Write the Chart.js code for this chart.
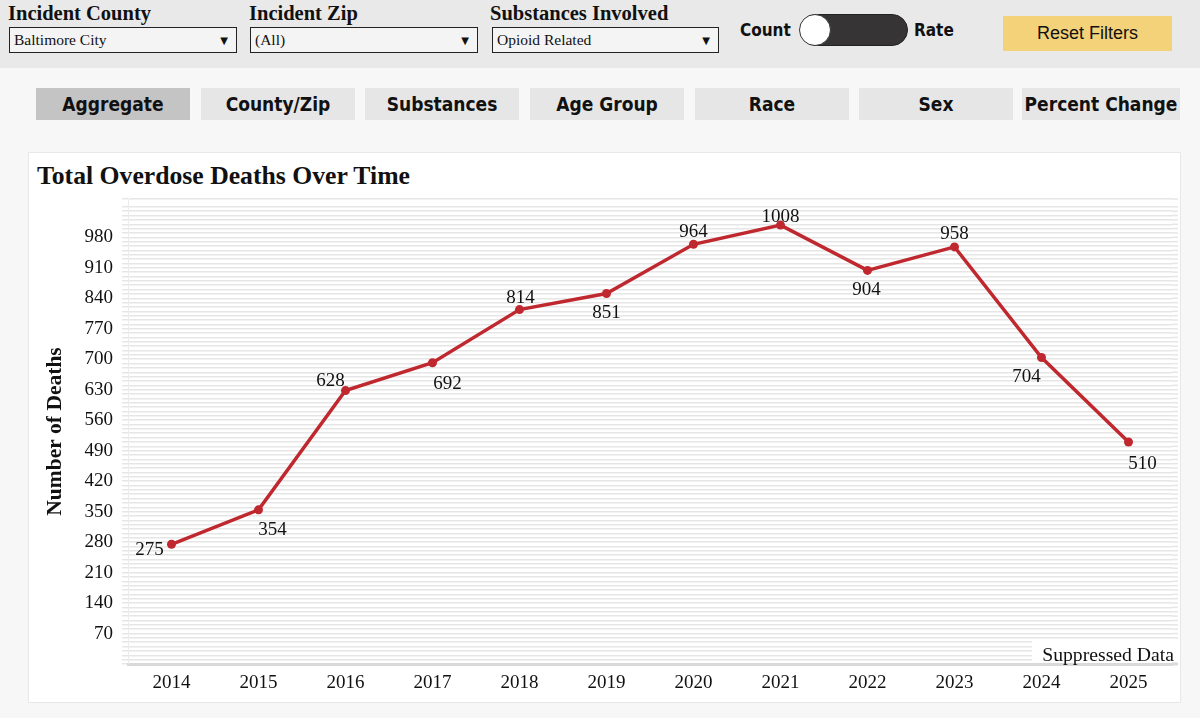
<!DOCTYPE html>
<html>
<head>
<meta charset="utf-8">
<script src="https://cdn.jsdelivr.net/npm/chart.js@4.4.1/dist/chart.umd.min.js"></script>
<style>
  html,body{margin:0;padding:0;width:1200px;height:718px;overflow:hidden;background:#f7f7f7;}
  #top{position:absolute;left:0;top:0;width:1200px;height:68px;background:#e9e9e9;}
  .flabel{position:absolute;top:2px;font-family:"Liberation Serif",serif;font-weight:bold;font-size:20.5px;color:#111;}
  .dd{position:absolute;top:27px;height:26px;border:1.5px solid #222;background:#f4f4f4;box-sizing:border-box;}
  .dd span{position:absolute;left:4px;top:3px;font-family:"Liberation Serif",serif;font-size:15.5px;color:#111;}
  .dd i{position:absolute;right:8px;top:7px;font-style:normal;font-size:10px;color:#111;font-family:"DejaVu Sans",sans-serif;}
  .tog{position:absolute;font-family:"DejaVu Sans Condensed","DejaVu Sans",sans-serif;font-weight:bold;font-size:17px;color:#111;top:20px;}
  #track{position:absolute;left:800px;top:14px;width:108px;height:32px;border-radius:16px;background:#363434;box-sizing:border-box;border:1px solid #222;}
  #knob{position:absolute;left:799px;top:14px;width:32px;height:32px;border-radius:16px;background:#fff;box-sizing:border-box;border:1.5px solid #333;}
  #reset{position:absolute;left:1003px;top:16px;width:169px;height:35px;background:#f4d27a;font-family:"Liberation Sans",Arial,sans-serif;font-size:18px;color:#111;text-align:center;line-height:35px;}
  .tab{position:absolute;top:88px;height:32px;width:154px;background:#e6e6e6;font-family:"DejaVu Sans Condensed","DejaVu Sans",sans-serif;font-weight:bold;font-size:19px;color:#111;text-align:center;line-height:32px;}
  #card{position:absolute;left:28px;top:152px;width:1153px;height:551px;background:#fff;border:1px solid #e8e8e8;box-sizing:border-box;}
  #ctitle{position:absolute;left:37px;top:161px;font-family:"Liberation Serif",serif;font-weight:bold;font-size:25.7px;color:#111;}
  #chartwrap{position:absolute;left:28px;top:152px;width:1153px;height:552px;}
  #supp{position:absolute;left:1032px;top:641px;width:142px;height:20px;background:#fff;font-family:"Liberation Serif",serif;font-size:19.7px;color:#111;text-align:right;line-height:26px;padding-right:4px;overflow:visible;}
</style>
</head>
<body>
<div id="top"></div>
<div class="flabel" style="left:8px">Incident County</div>
<div class="dd" style="left:9px;width:228px"><span>Baltimore City</span><i>▼</i></div>
<div class="flabel" style="left:249px">Incident Zip</div>
<div class="dd" style="left:250px;width:228px"><span>(All)</span><i>▼</i></div>
<div class="flabel" style="left:490px">Substances Involved</div>
<div class="dd" style="left:492px;width:227px"><span>Opioid Related</span><i>▼</i></div>
<div class="tog" style="left:740px">Count</div>
<div id="track"></div><div id="knob"></div>
<div class="tog" style="left:914px">Rate</div>
<div id="reset">Reset Filters</div>

<div class="tab" style="left:36px;background:#c4c4c4">Aggregate</div>
<div class="tab" style="left:201px">County/Zip</div>
<div class="tab" style="left:365px">Substances</div>
<div class="tab" style="left:530px">Age Group</div>
<div class="tab" style="left:695px">Race</div>
<div class="tab" style="left:859px">Sex</div>
<div class="tab" style="left:1022px;width:158px">Percent Change</div>

<div id="card"></div>
<div id="ctitle">Total Overdose Deaths Over Time</div>
<div id="chartwrap"><canvas id="c" width="1153" height="552"></canvas></div>
<div id="supp">Suppressed Data</div>

<script>
const years = ["2014","2015","2016","2017","2018","2019","2020","2021","2022","2023","2024","2025"];
const deaths = [275, 354, 628, 692, 814, 851, 964, 1008, 904, 958, 704, 510];
const yTickLabels = [70, 140, 210, 280, 350, 420, 490, 560, 630, 700, 770, 840, 910, 980];

// label placement offsets (styling only): [dx, dy]
const labelOffsets = [[-22,6],[14,20],[-15,-10],[15,21],[1,-12],[0,20],[0,-12],[0,-8],[-1,20],[0,-13],[-15,20],[14,22]];

const labelPlugin = {
  id: 'pointLabels',
  afterDatasetsDraw(chart) {
    const ctx = chart.ctx;
    const meta = chart.getDatasetMeta(0);
    ctx.save();
    ctx.font = '19px "Liberation Serif", serif';
    ctx.fillStyle = '#111';
    ctx.textAlign = 'center';
    ctx.textBaseline = 'middle';
    meta.data.forEach((pt, i) => {
      const o = labelOffsets[i];
      ctx.fillText(String(chart.data.datasets[0].data[i]), pt.x + o[0], pt.y + o[1]);
    });
    ctx.restore();
  }
};

// extend horizontal gridlines slightly past the right edge of the plot
const gridExtend = {
  id: 'gridExtend',
  beforeDatasetsDraw(chart) {
    const ctx = chart.ctx, ys = chart.scales.y, ca = chart.chartArea;
    ctx.save();
    ctx.strokeStyle = '#e6e6e6';
    ctx.lineWidth = 1.5;
    ys.ticks.forEach(t => {
      const y = ys.getPixelForValue(t.value);
      ctx.beginPath();
      ctx.moveTo(ca.right, y);
      ctx.lineTo(ca.right + 6, y);
      ctx.stroke();
    });
    ctx.strokeStyle = '#d9d9d9';
    ctx.lineWidth = 3;
    ctx.beginPath();
    ctx.moveTo(ca.right, ca.bottom);
    ctx.lineTo(ca.right + 6, ca.bottom);
    ctx.stroke();
    ctx.restore();
  }
};

new Chart(document.getElementById('c'), {
  type: 'line',
  data: {
    labels: years,
    datasets: [{
      data: deaths,
      borderColor: '#c0282f',
      backgroundColor: '#c0282f',
      borderWidth: 3.5,
      pointRadius: 4.5,
      pointBorderWidth: 0,
      pointHoverRadius: 4.5,
      tension: 0
    }]
  },
  options: {
    responsive: false,
    animation: false,
    devicePixelRatio: 1,
    layout: { padding: { top: 47, right: 9, left: 0, bottom: 0 } },
    plugins: { legend: { display: false }, tooltip: { enabled: false }, title: { display: false } },
    scales: {
      x: {
        type: 'category',
        offset: true,
        grid: { display: false, drawTicks: false },
        border: { display: true, color: '#d9d9d9', width: 3 },
        ticks: { font: { family: '"Liberation Serif", serif', size: 19 }, color: '#111', padding: 8, maxRotation: 0 },
        afterFit(s) { s.height = 40; }
      },
      y: {
        min: 0,
        max: 1068,
        grid: { color: '#e6e6e6', lineWidth: 1.5, drawTicks: true, tickLength: 6 },
        border: { display: true, color: '#ececec', width: 1 },
        ticks: {
          stepSize: 10,
          autoSkip: false,
          padding: 9,
          font: { family: '"Liberation Serif", serif', size: 19 },
          color: '#111',
          callback: (v) => yTickLabels.includes(v) ? String(v) : ''
        },
        title: {
          display: true,
          text: 'Number of Deaths',
          font: { family: '"Liberation Serif", serif', size: 21.5, weight: 'bold' },
          color: '#111',
          padding: { top: 15, bottom: 0 }
        },
        afterFit(s) { s.width = 100; }
      }
    }
  },
  plugins: [labelPlugin, gridExtend]
});
</script>
</body>
</html>
